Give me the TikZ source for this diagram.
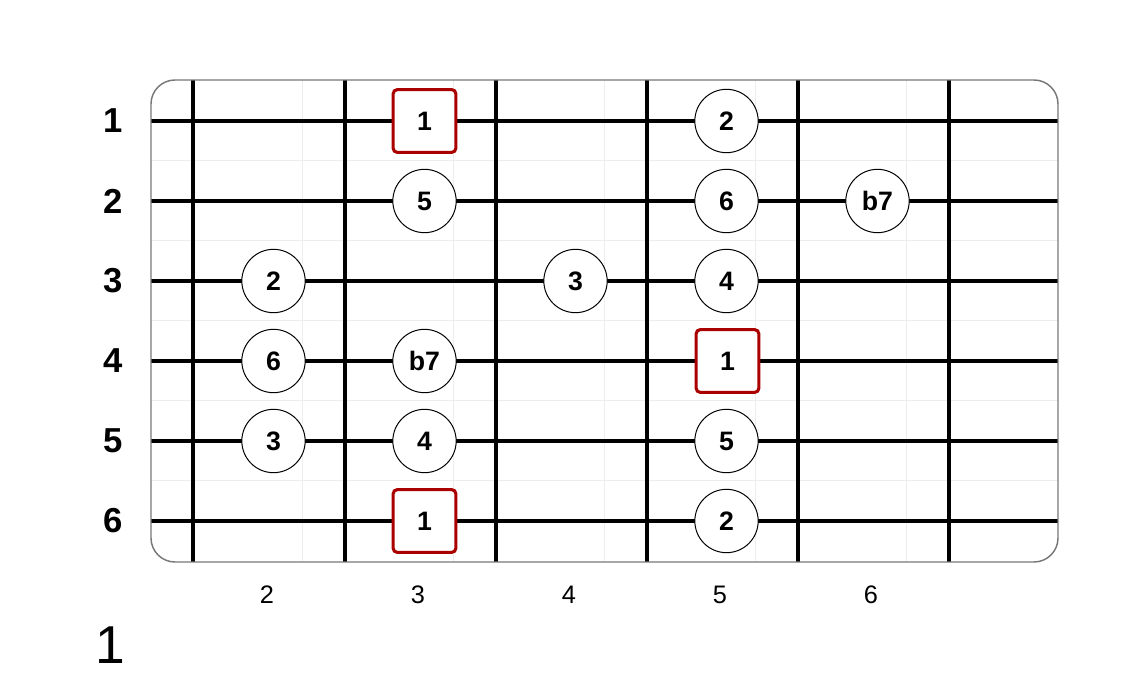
\documentclass[tikz,border=0pt]{standalone}
\usepackage{fontspec}
\setmainfont{Liberation Sans}
\definecolor{rootred}{RGB}{170,0,0}
\definecolor{boardgray}{RGB}{120,120,120}
\tikzset{every picture/.style={line width=0.75pt}}
\tikzset{
  gtrstring/.style={line width=3.6pt},
  gtrfret/.style={line width=2.4pt},
  cellline/.style={draw=black!7, line width=0.6pt},
  note/.style={circle, draw, fill=white, minimum size=47.5pt, inner sep=0pt, font=\fontsize{20}{20}\selectfont\bfseries},
  root/.style={rectangle, draw=rootred, line width=2.3pt, rounded corners=3pt, fill=white, minimum size=47pt, inner sep=0pt, font=\fontsize{20}{20}\selectfont\bfseries},
  strnum/.style={font=\fontsize{26}{26}\selectfont\bfseries},
  fretnum/.style={font=\fontsize{19}{19}\selectfont}
}
\begin{document}
\begin{tikzpicture}[x=0.75pt,y=0.75pt,yscale=-1,xscale=1]
\useasboundingbox (0,0) rectangle (1132,682);

% faint cells
\draw [cellline]   (302,80) -- (302,562) ;
\draw [cellline]   (453,80) -- (453,562) ;
\draw [cellline]   (604,80) -- (604,562) ;
\draw [cellline]   (755,80) -- (755,562) ;
\draw [cellline]   (906,80) -- (906,562) ;
\draw [cellline]   (151,160) -- (1058,160) ;
\draw [cellline]   (151,240) -- (1058,240) ;
\draw [cellline]   (151,320) -- (1058,320) ;
\draw [cellline]   (151,400) -- (1058,400) ;
\draw [cellline]   (151,480) -- (1058,480) ;

% frets
\draw [gtrfret]   (193,80) -- (193,562) ;
\draw [gtrfret]   (345,80) -- (345,562) ;
\draw [gtrfret]   (496,80) -- (496,562) ;
\draw [gtrfret]   (647,80) -- (647,562) ;
\draw [gtrfret]   (798,80) -- (798,562) ;
\draw [gtrfret]   (949,80) -- (949,562) ;

% strings
\draw [gtrstring]   (151,121) -- (1058,121) ;
\draw [gtrstring]   (151,201) -- (1058,201) ;
\draw [gtrstring]   (151,281) -- (1058,281) ;
\draw [gtrstring]   (151,361) -- (1058,361) ;
\draw [gtrstring]   (151,441) -- (1058,441) ;
\draw [gtrstring]   (151,521) -- (1058,521) ;

% board
\draw [boardgray, line width=1.1pt, rounded corners=18pt]   (151,80) rectangle (1058,562) ;

% string numbers
\draw (113,121) node [strnum] (str1) {1};
\draw (113,201) node [strnum] (str2) {2};
\draw (113,281) node [strnum] (str3) {3};
\draw (113,361) node [strnum] (str4) {4};
\draw (113,441) node [strnum] (str5) {5};
\draw (113,521) node [strnum] (str6) {6};

% fret numbers
\draw (267,595) node [fretnum] (fret2) {2};
\draw (418,595) node [fretnum] (fret3) {3};
\draw (569,595) node [fretnum] (fret4) {4};
\draw (720,595) node [fretnum] (fret5) {5};
\draw (871,595) node [fretnum] (fret6) {6};

% notes
\draw (424.5,121) node [root] (s1f3) {1};
\draw (726.5,121) node [note] (s1f5) {2};
\draw (424.5,201) node [note] (s2f3) {5};
\draw (726.5,201) node [note] (s2f5) {6};
\draw (877.5,201) node [note] (s2f6) {b7};
\draw (273.5,281) node [note] (s3f2) {2};
\draw (575.5,281) node [note] (s3f4) {3};
\draw (726.5,281) node [note] (s3f5) {4};
\draw (273.5,361) node [note] (s4f2) {6};
\draw (424.5,361) node [note] (s4f3) {b7};
\draw (727.5,361) node [root] (s4f5) {1};
\draw (273.5,441) node [note] (s5f2) {3};
\draw (424.5,441) node [note] (s5f3) {4};
\draw (726.5,441) node [note] (s5f5) {5};
\draw (424.5,521) node [root] (s6f3) {1};
\draw (726.5,521) node [note] (s6f5) {2};

% position
\draw (110,645) node [font=\fontsize{40}{40}\selectfont] (pos) {1};

\end{tikzpicture}
\end{document}
